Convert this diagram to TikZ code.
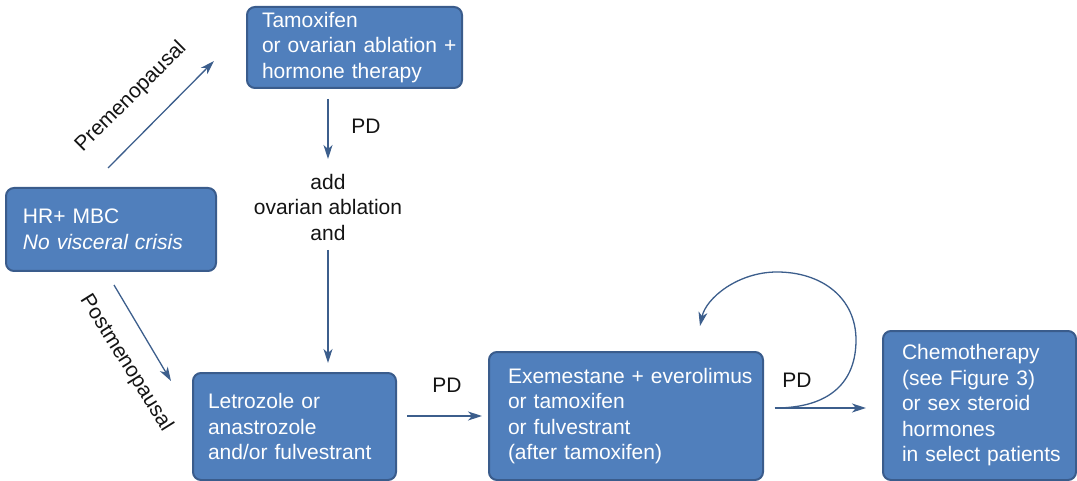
\documentclass[tikz,border=0pt]{standalone}
\usepackage{fontspec}
\setmainfont{Liberation Sans}
\usetikzlibrary{arrows.meta}
\definecolor{boxfill}{RGB}{80,127,188}
\definecolor{boxedge}{RGB}{58,92,140}
\definecolor{flow}{RGB}{60,94,140}
\definecolor{ink}{RGB}{20,20,20}
\begin{document}
\begin{tikzpicture}[x=1pt,y=-1pt,
  every node/.style={font=\fontsize{21}{25.5}\selectfont},
  % box of width #1 whose text starts #2 from its left side
  stepbox/.style 2 args={draw=boxedge, line width=2pt, fill=boxfill, rounded corners=8pt,
    text=white, align=left, inner xsep=0pt, inner ysep=0pt, text width=#1,
    execute at begin node={\leftskip=#2\relax}},
  flowline/.style={draw=flow, line width=1.3pt, -{Stealth[length=14pt,width=9pt,inset=4pt]}},
  lbl/.style={text=ink, inner sep=0pt}
]
\useasboundingbox (0,0) rectangle (1077,481);

% treatment boxes
\node[stepbox={215pt}{15pt}, minimum height=81pt]
  (tam) at (354.5,47.5) {Tamoxifen\\or ovarian ablation +\\hormone therapy};
\node[stepbox={210pt}{17pt}, minimum height=83pt]
  (hr) at (111,229.5) {HR+ MBC\\\textit{No visceral crisis}};
\node[stepbox={203pt}{15pt}, minimum height=107pt]
  (let) at (294.5,426.5) {Letrozole or\\anastrozole\\and/or fulvestrant};
\node[stepbox={274pt}{19pt}, minimum height=128pt]
  (exe) at (626,416) {Exemestane + everolimus\\or tamoxifen\\or fulvestrant\\(after tamoxifen)};
\node[stepbox={193pt}{19pt}, minimum height=149pt]
  (chemo) at (979.5,405.5) {Chemotherapy\\(see Figure 3)\\or sex steroid\\hormones\\in select patients};

% intermediate step text
\node[lbl, align=center] (add) at (328,207) {add\\ovarian ablation\\and};

% connector end points
\coordinate (preS) at (108,168);
\coordinate (preE) at (214,61);
\coordinate (postS) at (114,285);
\coordinate (postE) at (171,381);
\coordinate (tamS) at (328,99);
\coordinate (addN) at (328,159);
\coordinate (addS) at (328,250);
\coordinate (letN) at (328,363);
\coordinate (letE) at (407,416);
\coordinate (exeW) at (482,416);
\coordinate (exeE) at (775,408);
\coordinate (chemoW) at (866,408);
\coordinate (loopR) at (856,340);
\coordinate (loopT) at (777,272);
\coordinate (loopEnd) at (700,326);

% connectors
\draw[flowline] (preS) -- (preE);
\draw[flowline] (postS) -- (postE);
\draw[flowline] (tamS) -- (addN);
\draw[flowline] (addS) -- (letN);
\draw[flowline] (letE) -- (exeW);
\draw[flowline] (exeE) -- (chemoW);
\draw[flowline] (exeE) .. controls (830,408) and (856,382) .. (loopR)
  .. controls (856,298) and (822,272) .. (loopT)
  .. controls (738,272) and (706,298) .. (loopEnd);

% connector labels
\node[lbl, rotate=45] (pre) at (131,97) {Premenopausal};
\node[lbl, rotate=-58] (post) at (126,363) {Postmenopausal};
\node[lbl] (pd1) at (366,126) {PD};
\node[lbl] (pd2) at (447,385) {PD};
\node[lbl] (pd3) at (797,380) {PD};
\end{tikzpicture}
\end{document}
